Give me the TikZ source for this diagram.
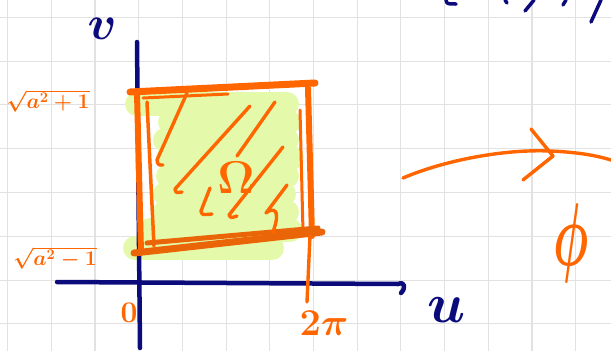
\RequirePackage{fix-cm}
\documentclass[tikz,border=0pt]{standalone}
\usepackage{graphicx}
\definecolor{navy}{HTML}{0B0B7C}
\definecolor{penorange}{HTML}{FF6600}
\definecolor{pendark}{HTML}{EA6508}
\definecolor{hilite}{HTML}{E4F9A9}
\definecolor{gridgray}{HTML}{E2E2E2}
\tikzset{
  gridrule/.style={draw=gridgray, line width=1.1pt},
  axis/.style={draw=navy, line width=4.5pt, line cap=round, line join=round},
  stroke/.style={draw=penorange, line width=6pt, line cap=round, line join=round},
  hatch/.style={draw=penorange, line width=3.4pt, line cap=round, line join=round},
  highlight/.style={draw=hilite, line width=24pt, line cap=round},
  orangelabel/.style={text=penorange, inner sep=0pt},
  bluelabel/.style={text=navy, inner sep=0pt}
}

\begin{document}
\begin{tikzpicture}[x=1pt,y=-1pt]
  \useasboundingbox (0,0) rectangle (611,351);
  \clip (0,0) rectangle (611,351);
  \fill[white] (0,0) rectangle (611,351);

  % Squared paper.
  \foreach \k in {0,...,13} \draw[gridrule] ({7.6+43.7*\k},0) -- ++(0,351);
  \foreach \k in {0,...,7} \draw[gridrule] (0,{17.3+43.8*\k}) -- ++(611,0);

  % Highlighter under the domain.
  \foreach \ya/\xa/\xb in {104/137/287, 122/170/289, 140/165/287, 158/168/292,
      176/168/287, 194/165/284, 212/165/287, 230/150/290, 248/135/272}
    \draw[highlight] (\xa,\ya) -- (\xb,\ya);

  % Axes.
  \draw[axis] (137,42) -- (140,348);
  \draw[axis] (57,282) -- (398,284) .. controls (405,281) and (406,288) .. (401,293);
  \node[bluelabel, font=\fontsize{48}{54}\selectfont\boldmath] (vlabel) at (102,29) {$v$};
  \node[bluelabel, font=\fontsize{56}{62}\selectfont\boldmath] (ulabel) at (447,310) {$u$};

  % Domain boundary, pen strokes gone over twice.
  \draw[stroke, line width=7pt] (130,92) -- (315,83);
  \draw[stroke, line width=3pt] (143,98) -- (228,94);
  \draw[stroke] (137,93) -- (141,252);
  \draw[stroke, line width=3.5pt] (147,102) -- (154,246);
  \draw[stroke] (308,88) -- (312,236);
  \draw[stroke, line width=3pt] (300,110) -- (303,232);
  \draw[stroke, draw=pendark, line width=7pt] (134,253) -- (322,232);
  \draw[stroke, draw=pendark, line width=5pt] (147,243) -- (318,228);
  \draw[hatch] (310,236) -- (307,302);

  % Hatching.
  \draw[hatch] (187,93) -- (157,160) .. controls (158,165) .. (163,165);
  \draw[hatch] (250,106) -- (175,189) .. controls (176,193) .. (182,192);
  \draw[hatch] (275,102) -- (237,156);
  \draw[hatch] (210,188) -- (201,211) .. controls (202,215) .. (212,214);
  \draw[hatch] (283,147) -- (229,215) .. controls (231,218) .. (237,216);
  \draw[hatch] (287,185) -- (266,213) .. controls (272,208) and (282,207) .. (273,232);
  \node[orangelabel, font=\fontsize{46}{50}\selectfont] (omega) at (236,178) {$\mathbf{\Omega}$};

  % Tick labels.
  \node[orangelabel, font=\fontsize{21}{25}\selectfont\boldmath] (vtop) at (48,101) {$\sqrt{a^2+1}$};
  \node[orangelabel, font=\fontsize{21}{25}\selectfont\boldmath] (vbottom) at (55,258) {$\sqrt{a^2-1}$};
  \node[orangelabel, font=\fontsize{30}{34}\selectfont\boldmath] (zero) at (129,313) {$0$};
  \node[orangelabel, font=\fontsize{38}{42}\selectfont\boldmath] (twopi) at (324,323) {$2\pi$};

  % The map.
  \draw[hatch] (403,178) .. controls (445,160) and (505,149) .. (550,151)
    .. controls (575,152) and (595,155) .. (611,160);
  \draw[hatch] (531,129) -- (553,156) -- (523,180);
  \node[orangelabel, font=\fontsize{66}{74}\selectfont\boldmath] (philabel) at (571,243)
    {\scalebox{0.75}[1.35]{$\phi$}};

  % Cut-off writing at the top edge.
  \draw[axis, line width=3.5pt] (446,0) .. controls (447,4) .. (456,4);
  \draw[axis, line width=3.5pt] (505,0) -- (507,3);
  \draw[axis, line width=3.5pt] (534,0) -- (525,11);
  \draw[axis, line width=3.5pt] (566,0) -- (563,5);
  \draw[axis, line width=3.5pt] (601,0) -- (591,22);
\end{tikzpicture}
\end{document}
